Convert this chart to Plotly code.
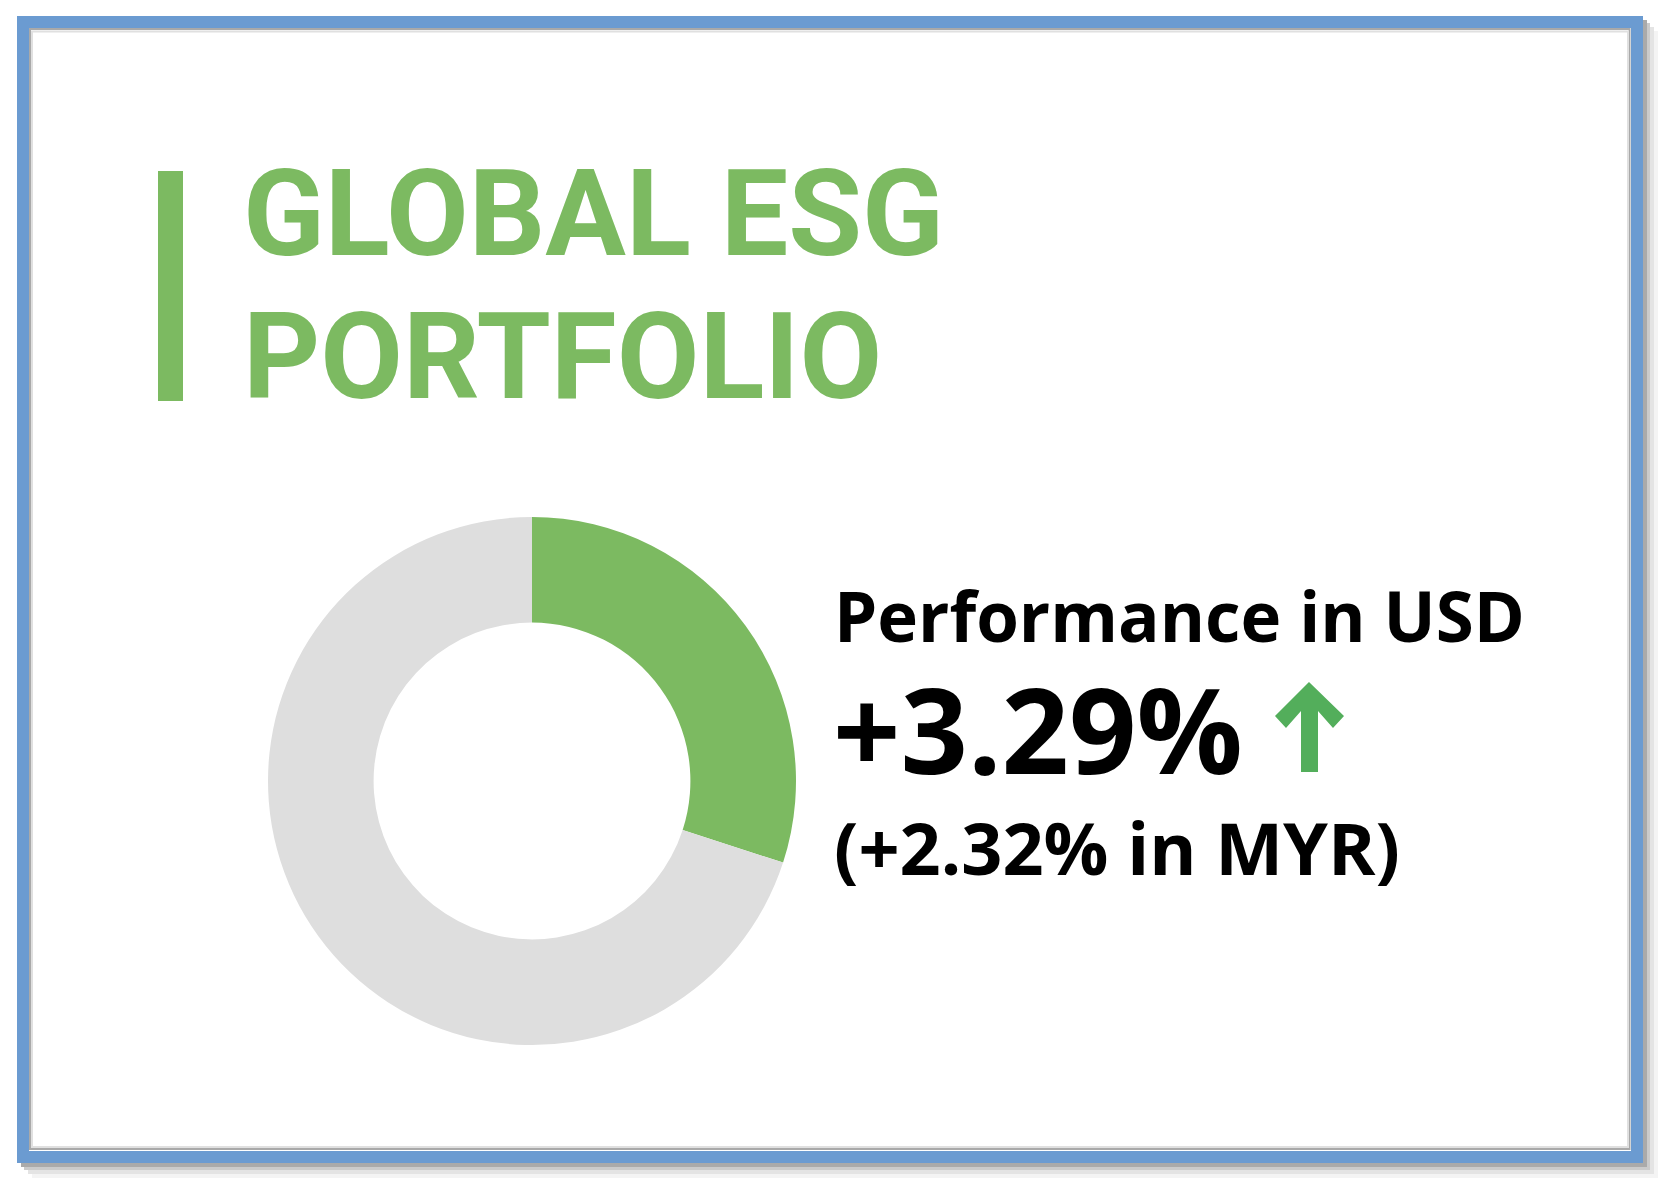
import plotly.graph_objects as go

# ---- data ----
segment_labels = ["Performance", "Remainder"]
segment_values = [30, 70]
segment_colors = ["#7CBA61", "#DEDEDE"]

title_lines = ["GLOBAL ESG", "PORTFOLIO"]
headline_label = "Performance in USD"
headline_value = "+3.29%"
secondary_value = "(+2.32% in MYR)"

# page body has an 8px margin; figure sized to fit the 1668x1186 window
OFF = 8
W, H = 1668 - 2 * OFF, 1186 - 2 * OFF


def px(x):
    """screen pixel x -> paper coordinate"""
    return (x - OFF) / W


def py(y):
    """screen pixel y -> paper coordinate"""
    return 1 - (y - OFF) / H


GREEN = "#7CBA61"
ARROW_GREEN = "#53AE5B"
BLUE = "#6B9BD1"

fig = go.Figure()

fig.add_trace(go.Pie(
    labels=segment_labels,
    values=segment_values,
    marker=dict(colors=segment_colors, line=dict(width=0)),
    hole=0.6,
    sort=False,
    direction="clockwise",
    rotation=0,
    textinfo="none",
    showlegend=False,
    domain=dict(x=[px(268), px(796)], y=[py(1045), py(517)]),
))

shapes = []
# drop shadow layers
for off, col in [(15, "#f4f4f4"), (11, "#e4e4e4"), (7, "#cbcbcb"), (4, "#aaaaaa")]:
    shapes.append(dict(type="rect", xref="paper", yref="paper", layer="below",
                       x0=px(17 + off), x1=px(1643 + off), y0=py(1163 + off), y1=py(16 + off),
                       fillcolor=col, line=dict(width=0)))
# card with blue frame
shapes.append(dict(type="rect", xref="paper", yref="paper", layer="below",
                   x0=px(23), x1=px(1637), y0=py(1157), y1=py(22),
                   fillcolor="white", line=dict(color=BLUE, width=12)))
# inner grey line
shapes.append(dict(type="rect", xref="paper", yref="paper", layer="below",
                   x0=px(30), x1=px(1629.5), y0=py(1149), y1=py(29),
                   fillcolor="rgba(0,0,0,0)", line=dict(color="#a9a9a9", width=2)))
shapes.append(dict(type="rect", xref="paper", yref="paper", layer="below",
                   x0=px(32), x1=px(1628), y0=py(1147), y1=py(31.5),
                   fillcolor="rgba(0,0,0,0)", line=dict(color="#e0e0e0", width=2)))
# title accent bar
shapes.append(dict(type="rect", xref="paper", yref="paper", layer="below",
                   x0=px(158), x1=px(183), y0=py(401), y1=py(171),
                   fillcolor=GREEN, line=dict(width=0)))
# up arrow icon
arrow_pts = [(1309, 682), (1344, 716), (1333, 728), (1318, 711), (1318, 772),
             (1301, 772), (1301, 711), (1286, 728), (1275, 716)]
path = "M " + " L ".join(f"{px(x):.5f},{py(y):.5f}" for x, y in arrow_pts) + " Z"
shapes.append(dict(type="path", xref="paper", yref="paper", path=path,
                   fillcolor=ARROW_GREEN, line=dict(width=0)))

title_font = dict(family="Roboto, Liberation Sans", size=120, color=GREEN, weight="bold")
body_font = "Open Sans, Lato, sans-serif"

annotations = [
    dict(text=title_lines[0], x=px(241), y=py(214), font=title_font),
    dict(text=title_lines[1], x=px(241), y=py(357), font=title_font),
    dict(text=headline_label, x=px(832), y=py(615),
         font=dict(family=body_font, size=69, color="#000000", weight="bold")),
    dict(text=headline_value, x=px(831), y=py(728),
         font=dict(family=body_font, size=118, color="#000000", weight="bold")),
    dict(text=secondary_value, x=px(832), y=py(847),
         font=dict(family=body_font, size=72, color="#000000", weight="bold")),
]
for a in annotations:
    a.update(xref="paper", yref="paper", xanchor="left", yanchor="middle",
             showarrow=False, align="left")

fig.update_layout(
    width=W, height=H,
    margin=dict(l=0, r=0, t=0, b=0),
    paper_bgcolor="white",
    plot_bgcolor="white",
    shapes=shapes,
    annotations=annotations,
    xaxis=dict(visible=False),
    yaxis=dict(visible=False),
)

fig.write_html("out.html")
